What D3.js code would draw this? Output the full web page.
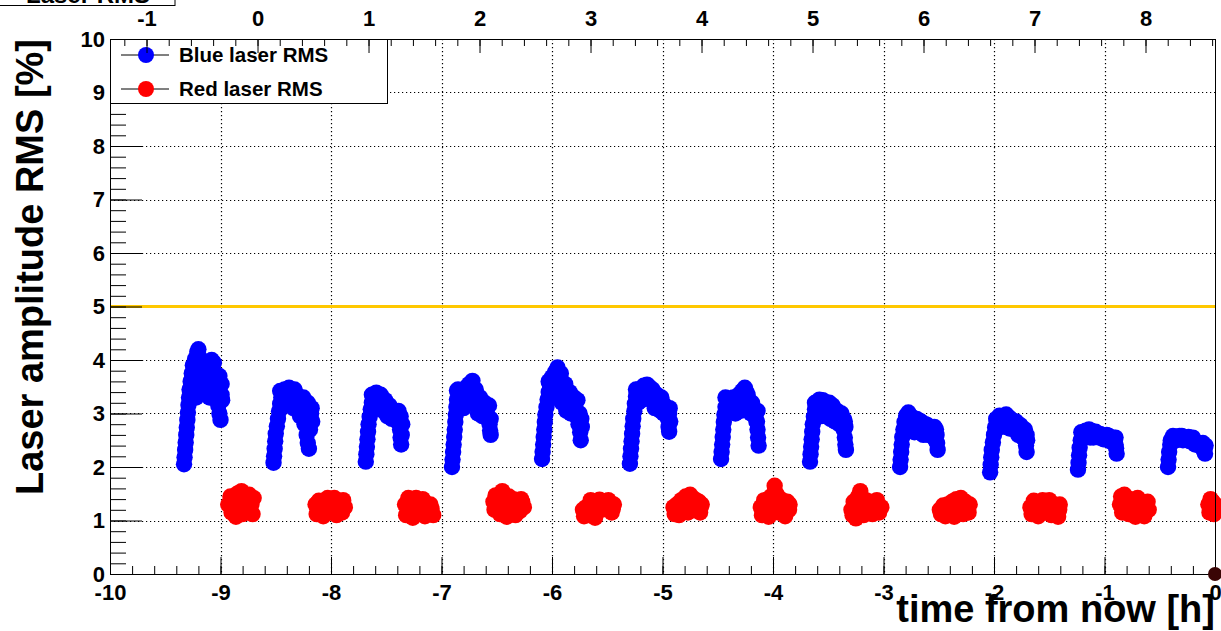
<!DOCTYPE html>
<html><head><meta charset="utf-8">
<script src="https://cdn.jsdelivr.net/npm/d3@7"></script>
<style>
body{margin:0;background:#fff;overflow:hidden}
svg{display:block}
text{font-family:"Liberation Sans",Arial,Helvetica,sans-serif;font-weight:bold;fill:#000}
</style>
</head><body>
<svg id="chart" width="1221" height="631"></svg>
<script>
// ---------------- data ----------------
const titleText = "Laser RMS";
const xTitle = "time from now [h]";
const yTitle = "Laser amplitude RMS [%]";
const seriesNames = ["Blue laser RMS", "Red laser RMS"];
const thresholdRms = 5;

const xTickValues = [-10, -9, -8, -7, -6, -5, -4, -3, -2, -1, 0];
const yTickValues = [0, 1, 2, 3, 4, 5, 6, 7, 8, 9, 10];
const topTickValues = [-1, 0, 1, 2, 3, 4, 5, 6, 7, 8];

const blueTime = [
  -9.33,-9.325,-9.32,-9.315,-9.31,-9.305,-9.30,-9.295,-9.29,-9.285,-9.28,-9.27,-9.26,-9.25,-9.24,-9.23,-9.22,-9.21,-9.20,-9.19,-9.18,-9.17,-9.16,-9.15,-9.14,-9.12,-9.10,-9.08,-9.07,-9.06,-9.05,-9.04,-9.03,-9.02,-9.01,-9.00,-9.02,-8.99,-8.985,
  -9.27,-9.25,-9.23,-9.21,-9.19,-9.17,-9.15,-9.13,-9.11,-9.09,-9.06,-9.04,-9.01,-8.99,-9.22,-9.10,
  -8.52,-8.515,-8.51,-8.505,-8.50,-8.49,-8.48,-8.47,-8.46,-8.45,-8.43,-8.41,-8.40,-8.38,-8.36,-8.34,-8.32,-8.30,-8.28,-8.26,-8.24,-8.22,-8.21,-8.20,-8.19,-8.18,-8.17,
  -8.46,-8.44,-8.42,-8.39,-8.37,-8.35,-8.33,-8.31,-8.29,-8.27,-8.25,-8.23,-8.21,-8.19,-8.175,
  -7.685,-7.68,-7.675,-7.67,-7.665,-7.66,-7.65,-7.64,-7.63,-7.61,-7.59,-7.57,-7.55,-7.53,-7.51,-7.49,-7.47,-7.45,-7.42,-7.40,-7.375,-7.37,-7.365,-7.36,-7.355,
  -7.63,-7.61,-7.59,-7.57,-7.55,-7.53,-7.51,-7.49,-7.47,-7.45,-7.43,-7.41,-7.39,-7.37,
  -6.905,-6.90,-6.895,-6.89,-6.885,-6.88,-6.875,-6.87,-6.865,-6.86,-6.86,-6.84,-6.82,-6.80,-6.78,-6.75,-6.72,-6.70,-6.68,-6.66,-6.64,-6.62,-6.60,-6.58,-6.565,-6.56,-6.555,
  -6.85,-6.83,-6.81,-6.79,-6.77,-6.74,-6.73,-6.71,-6.69,-6.67,-6.65,-6.63,-6.61,-6.59,-6.57,-6.555,
  -6.09,-6.085,-6.08,-6.075,-6.07,-6.065,-6.06,-6.05,-6.04,-6.03,-6.02,-6.0,-5.98,-5.97,-5.95,-5.93,-5.91,-5.89,-5.87,-5.85,-5.82,-5.80,-5.78,-5.76,-5.745,-5.74,-5.73,
  -6.03,-6.01,-5.99,-5.97,-5.96,-5.94,-5.92,-5.90,-5.88,-5.86,-5.84,-5.83,-5.81,-5.79,-5.77,-5.75,-5.735,
  -5.295,-5.29,-5.285,-5.28,-5.275,-5.27,-5.265,-5.255,-5.25,-5.24,-5.22,-5.19,-5.17,-5.14,-5.11,-5.08,-5.06,-5.03,-5.00,-4.97,-4.95,-4.945,-4.94,-4.93,-4.935,
  -5.24,-5.22,-5.20,-5.18,-5.16,-5.13,-5.12,-5.10,-5.09,-5.07,-5.05,-5.02,-5.01,-4.99,-4.98,-4.96,-4.94,
  -4.47,-4.465,-4.46,-4.455,-4.45,-4.445,-4.44,-4.43,-4.41,-4.39,-4.37,-4.35,-4.33,-4.31,-4.28,-4.255,-4.23,-4.21,-4.19,-4.17,-4.15,-4.14,-4.135,-4.13,-4.14,
  -4.43,-4.42,-4.40,-4.38,-4.36,-4.34,-4.32,-4.30,-4.29,-4.27,-4.25,-4.24,-4.22,-4.20,-4.18,-4.16,-4.145,
  -3.665,-3.66,-3.655,-3.65,-3.645,-3.64,-3.63,-3.62,-3.60,-3.58,-3.55,-3.52,-3.49,-3.46,-3.43,-3.40,-3.38,-3.36,-3.35,-3.345,-3.34,-3.35,
  -3.62,-3.60,-3.58,-3.56,-3.54,-3.52,-3.50,-3.48,-3.46,-3.44,-3.42,-3.40,-3.38,-3.36,-3.345,
  -2.85,-2.845,-2.84,-2.835,-2.83,-2.82,-2.81,-2.795,-2.775,-2.75,-2.72,-2.69,-2.66,-2.63,-2.60,-2.57,-2.54,-2.52,-2.515,-2.51,-2.53,
  -2.80,-2.78,-2.76,-2.74,-2.72,-2.70,-2.68,-2.66,-2.64,-2.62,-2.60,-2.58,-2.56,-2.54,-2.525,
  -2.035,-2.03,-2.025,-2.02,-2.01,-2.0,-1.99,-1.975,-1.95,-1.92,-1.89,-1.86,-1.83,-1.80,-1.77,-1.74,-1.72,-1.71,-1.705,-1.70,
  -1.98,-1.96,-1.94,-1.93,-1.91,-1.90,-1.88,-1.86,-1.84,-1.82,-1.80,-1.78,-1.76,-1.74,-1.72,-1.705,
  -1.24,-1.235,-1.23,-1.225,-1.215,-1.2,-1.17,-1.14,-1.11,-1.08,-1.05,-1.02,-0.99,-0.96,-0.93,-0.91,-0.895,-0.89,-0.90,
  -1.21,-1.19,-1.16,-1.13,-1.12,-1.10,-1.07,-1.04,-1.01,-0.98,-0.95,-0.92,-0.90,
  -0.425,-0.42,-0.415,-0.405,-0.39,-0.36,-0.33,-0.30,-0.27,-0.24,-0.21,-0.18,-0.15,-0.12,-0.10,-0.09,-0.085,
  -0.40,-0.38,-0.35,-0.32,-0.29,-0.26,-0.23,-0.20,-0.17,-0.14,-0.11,-0.095
];
const blueRms = [
  2.05,2.18,2.32,2.46,2.6,2.74,2.88,3.02,3.16,3.3,3.45,3.6,3.75,3.9,3.4,4.02,3.55,4.15,4.2,3.7,3.9,3.5,3.8,3.4,3.6,3.75,3.45,4.0,3.85,3.6,3.35,3.6,3.3,3.15,3.0,2.88,3.45,3.55,3.25,
  3.35,3.55,3.75,3.9,4.05,3.65,3.95,3.45,3.85,3.6,3.95,3.45,3.7,3.35,3.3,3.3,
  2.08,2.2,2.34,2.48,2.62,2.76,2.9,3.04,3.18,3.3,3.38,3.2,3.45,3.48,3.42,3.1,3.38,3.25,2.95,3.2,2.8,2.6,2.45,2.34,2.7,3.0,2.85,
  3.42,3.25,3.45,3.3,3.4,3.25,3.45,3.1,3.3,3.05,3.3,3.1,3.2,2.95,3.1,
  2.1,2.24,2.38,2.52,2.66,2.8,2.94,3.08,3.2,3.32,3.39,3.3,3.15,3.25,3.05,3.12,2.95,3.05,2.9,2.85,2.7,2.55,2.42,2.6,2.8,
  3.35,3.15,3.25,3.1,3.35,3.05,3.25,2.95,3.15,2.9,3.05,2.95,3.05,2.95,
  2.0,2.14,2.28,2.42,2.56,2.7,2.84,2.98,3.12,3.26,3.43,3.3,3.35,3.1,3.45,3.55,3.61,3.4,3.25,3.1,3.2,3.05,3.1,2.95,2.8,2.68,2.6,
  3.45,3.2,3.4,3.25,3.5,3.35,3.5,3.25,3.45,3.0,3.3,2.95,3.2,3.0,3.15,2.9,
  2.15,2.28,2.42,2.56,2.7,2.84,2.98,3.12,3.26,3.4,3.54,3.68,3.3,3.78,3.86,3.6,3.2,3.45,3.05,3.3,3.15,3.3,2.95,2.8,2.65,2.5,2.75,
  3.6,3.4,3.6,3.45,3.7,3.35,3.75,3.3,3.55,3.15,3.4,3.0,3.2,3.1,3.25,3.0,2.9,
  2.06,2.2,2.34,2.48,2.62,2.76,2.9,3.04,3.18,3.32,3.45,3.25,3.52,3.54,3.4,3.2,3.3,3.15,3.2,3.05,2.9,2.75,2.66,2.85,3.1,
  3.45,3.2,3.4,3.3,3.45,3.3,3.5,3.25,3.45,3.1,3.35,3.05,3.3,3.0,3.15,2.95,3.0,
  2.15,2.28,2.42,2.56,2.7,2.84,2.98,3.12,3.15,3.05,3.2,3.1,3.25,3.35,3.42,3.48,3.35,3.15,3.2,3.0,2.85,2.7,2.55,2.4,3.05,
  3.3,3.0,3.25,3.1,3.3,3.0,3.15,3.25,3.05,3.3,3.15,3.4,3.25,3.0,3.1,2.95,2.85,
  2.1,2.24,2.38,2.52,2.66,2.8,2.94,3.08,3.2,3.26,3.25,3.15,3.2,3.05,2.95,3.0,2.85,2.7,2.55,2.42,2.32,2.85,
  3.2,3.05,3.15,2.95,3.15,2.95,3.1,2.9,3.15,2.85,3.05,2.8,3.0,2.9,2.75,
  2.0,2.14,2.28,2.42,2.56,2.7,2.84,2.96,3.02,2.95,2.9,2.8,2.85,2.7,2.78,2.62,2.75,2.6,2.45,2.32,2.5,
  2.8,2.88,2.7,2.85,2.65,2.9,2.65,2.75,2.6,2.8,2.6,2.75,2.6,2.55,2.7,
  1.9,2.04,2.18,2.32,2.46,2.6,2.74,2.86,2.96,2.9,2.98,2.92,2.78,2.85,2.65,2.7,2.55,2.4,2.28,2.5,
  2.9,2.8,2.95,2.75,2.95,2.8,2.9,2.72,2.88,2.7,2.75,2.6,2.78,2.55,2.7,2.6,
  1.95,2.08,2.22,2.36,2.5,2.62,2.68,2.7,2.62,2.66,2.55,2.6,2.52,2.58,2.5,2.45,2.35,2.25,2.55,
  2.65,2.55,2.6,2.55,2.68,2.55,2.58,2.62,2.52,2.6,2.48,2.55,2.42,
  2.0,2.14,2.28,2.42,2.52,2.56,2.55,2.58,2.52,2.56,2.5,2.42,2.45,2.38,2.3,2.25,2.4,
  2.5,2.58,2.5,2.58,2.5,2.55,2.48,2.55,2.45,2.4,2.45,2.35
];
const redTime = [
  -8.93,-8.91,-8.90,-8.88,-8.86,-8.85,-8.83,-8.81,-8.80,-8.78,-8.76,-8.74,-8.72,-8.71,-8.70,-8.89,-8.84,-8.79,-8.75,-8.86,
  -8.14,-8.13,-8.11,-8.09,-8.07,-8.05,-8.03,-8.01,-7.99,-7.97,-7.95,-7.93,-7.91,-7.89,-7.875,-8.10,-8.05,-8.00,-7.94,-7.90,
  -7.33,-7.32,-7.30,-7.28,-7.26,-7.25,-7.23,-7.21,-7.19,-7.17,-7.15,-7.13,-7.11,-7.09,-7.075,-7.29,-7.24,-7.20,-7.14,-7.10,
  -6.53,-6.52,-6.51,-6.49,-6.47,-6.45,-6.43,-6.41,-6.39,-6.37,-6.35,-6.33,-6.31,-6.29,-6.27,-6.255,-6.50,-6.44,-6.38,-6.32,-6.28,
  -5.72,-5.71,-5.69,-5.67,-5.65,-5.63,-5.61,-5.59,-5.57,-5.55,-5.53,-5.51,-5.49,-5.47,-5.45,-5.44,-5.68,-5.62,-5.56,-5.50,-5.46,
  -4.90,-4.89,-4.87,-4.85,-4.83,-4.81,-4.79,-4.77,-4.75,-4.73,-4.71,-4.69,-4.67,-4.655,-4.645,-4.86,-4.80,-4.74,-4.70,-4.66,
  -4.11,-4.10,-4.08,-4.06,-4.04,-4.02,-4.00,-3.985,-3.97,-3.95,-3.93,-3.91,-3.89,-3.87,-3.855,-3.85,-4.07,-4.01,-3.96,-3.92,-3.88,
  -3.29,-3.28,-3.27,-3.25,-3.23,-3.21,-3.20,-3.18,-3.16,-3.14,-3.12,-3.10,-3.08,-3.06,-3.04,-3.02,-3.26,-3.22,-3.17,-3.11,-3.05,
  -2.49,-2.48,-2.46,-2.44,-2.42,-2.40,-2.38,-2.36,-2.34,-2.32,-2.30,-2.28,-2.26,-2.24,-2.22,-2.45,-2.39,-2.33,-2.27,-2.23,
  -1.67,-1.66,-1.64,-1.62,-1.60,-1.58,-1.56,-1.54,-1.52,-1.50,-1.48,-1.46,-1.44,-1.42,-1.405,-1.63,-1.57,-1.51,-1.45,-1.41,
  -0.86,-0.85,-0.84,-0.82,-0.80,-0.78,-0.76,-0.74,-0.72,-0.70,-0.68,-0.66,-0.64,-0.62,-0.60,-0.83,-0.77,-0.71,-0.65,-0.61,
  -0.06,-0.05,-0.04,-0.03,-0.02,-0.01,0.0,-0.045,-0.015
];
const redRms = [
  1.3,1.45,1.15,1.35,1.07,1.5,1.25,1.55,1.12,1.4,1.2,1.48,1.3,1.12,1.42,1.25,1.35,1.25,1.35,1.2,
  1.3,1.12,1.37,1.2,1.08,1.32,1.42,1.15,1.28,1.42,1.1,1.35,1.2,1.38,1.25,1.25,1.2,1.35,1.25,1.15,
  1.3,1.1,1.42,1.18,1.05,1.35,1.42,1.15,1.28,1.4,1.08,1.3,1.15,1.22,1.1,1.3,1.2,1.35,1.2,1.3,
  1.35,1.2,1.47,1.3,1.12,1.55,1.38,1.07,1.45,1.22,1.4,1.1,1.3,1.18,1.35,1.25,1.2,1.25,1.3,1.25,1.4,
  1.2,1.08,1.25,1.1,1.38,1.15,1.05,1.32,1.39,1.2,1.35,1.25,1.38,1.3,1.22,1.3,1.2,1.3,1.25,1.3,1.15,
  1.25,1.12,1.3,1.1,1.38,1.2,1.45,1.15,1.48,1.3,1.4,1.2,1.35,1.25,1.3,1.25,1.3,1.2,1.3,1.15,
  1.25,1.1,1.38,1.2,1.07,1.45,1.3,1.65,1.5,1.15,1.4,1.25,1.08,1.35,1.2,1.3,1.25,1.2,1.3,1.2,1.25,
  1.2,1.1,1.35,1.04,1.45,1.55,1.25,1.1,1.38,1.2,1.35,1.12,1.28,1.38,1.15,1.25,1.25,1.3,1.2,1.25,1.3,
  1.2,1.12,1.28,1.08,1.3,1.18,1.35,1.07,1.4,1.22,1.42,1.12,1.35,1.2,1.3,1.2,1.25,1.2,1.28,1.15,
  1.25,1.12,1.37,1.2,1.08,1.3,1.38,1.15,1.28,1.38,1.1,1.3,1.2,1.07,1.3,1.25,1.2,1.25,1.2,1.2,
  1.3,1.45,1.15,1.48,1.25,1.12,1.4,1.3,1.07,1.42,1.2,1.35,1.08,1.3,1.2,1.3,1.2,1.25,1.2,1.35,
  1.3,1.15,1.4,1.2,1.35,1.12,1.3,1.25,1.25
];
const nowTime = [0];
const nowValue = [0];

// ---------------- layout ----------------
const L = 110, R = 1215, T = 39, B = 574;
const svg = d3.select("#chart");

const x = d3.scaleLinear().domain([-10, 0]).range([L, R]);
const y = d3.scaleLinear().domain([0, 10]).range([B, T]);
const xTop = d3.scaleLinear().domain([-1.329, 8.626]).range([L, R]);

const minorOf = (lo, hi, step) => d3.range(Math.round(lo / step), Math.round(hi / step) + 1).map(k => +(k * step).toFixed(4));
const plainFmt = d => String(d);

// grid
const grid = svg.append("g");
xTickValues.filter(v => v > -10 && v < 0).forEach(v => {
  grid.append("line").attr("x1", Math.round(x(v)) + 0.5).attr("x2", Math.round(x(v)) + 0.5)
    .attr("y1", T).attr("y2", B).attr("stroke", "#000").attr("stroke-width", 1.2).attr("stroke-dasharray", "1.2,2.8");
});
yTickValues.filter(v => v > 0 && v < 10).forEach(v => {
  grid.append("line").attr("y1", Math.round(y(v)) + 0.5).attr("y2", Math.round(y(v)) + 0.5)
    .attr("x1", L).attr("x2", R).attr("stroke", "#000").attr("stroke-width", 1.2).attr("stroke-dasharray", "1.2,2.8");
});

// threshold line
svg.append("line").attr("x1", L).attr("x2", R).attr("y1", y(thresholdRms)).attr("y2", y(thresholdRms))
  .attr("stroke", "#ffc800").attr("stroke-width", 3);

// markers
const blue = blueTime.map((t, i) => [t, blueRms[i]]);
const red = redTime.map((t, i) => [t, redRms[i]]);
svg.append("g").selectAll("circle").data(blue).join("circle")
  .attr("cx", d => x(d[0])).attr("cy", d => y(d[1])).attr("r", 8.2).attr("fill", "#0000ff");
svg.append("g").selectAll("circle").data(red).join("circle")
  .attr("cx", d => x(d[0])).attr("cy", d => y(d[1])).attr("r", 8.2).attr("fill", "#ff0000");

// legend (covers left axis ticks)
const leg = svg.append("g");
leg.append("rect").attr("x", L + 0.5).attr("y", T + 0.5).attr("width", 277).attr("height", 64)
  .attr("fill", "#fff").attr("stroke", "#000").attr("stroke-width", 1);
const legColors = ["#0000ff", "#ff0000"];
seriesNames.forEach((name, i) => {
  const cy = 55 + i * 34;
  leg.append("line").attr("x1", 121).attr("x2", 169).attr("y1", cy).attr("y2", cy).attr("stroke", "#000").attr("stroke-width", 1);
  leg.append("circle").attr("cx", 146).attr("cy", cy).attr("r", 8).attr("fill", legColors[i]);
  leg.append("text").attr("x", 179).attr("y", cy + 7).attr("font-size", 20.5).text(name);
});

// axes
function styleAxis(g, fs) {
  g.attr("font-family", null).attr("font-size", null);
  g.selectAll("line").attr("stroke", "#000").attr("stroke-width", 1);
  g.selectAll("path.domain").remove();
  g.selectAll("text").attr("font-size", fs);
}
const fsTick = 22;
// bottom
svg.append("g").attr("transform", `translate(0,${B})`)
  .call(d3.axisBottom(x).tickValues(minorOf(-10, 0, 0.2)).tickSize(-8).tickFormat(""))
  .call(g => styleAxis(g, fsTick));
svg.append("g").attr("transform", `translate(0,${B})`)
  .call(d3.axisBottom(x).tickValues(xTickValues).tickSize(-17).tickPadding(10).tickFormat(plainFmt))
  .call(g => styleAxis(g, fsTick));
// left (ticks under legend removed)
svg.append("g").attr("transform", `translate(${L},0)`)
  .call(d3.axisLeft(y).tickValues(minorOf(0, 10, 0.2).filter(v => y(v) > 104)).tickSize(-16).tickFormat(""))
  .call(g => styleAxis(g, fsTick));
const la = svg.append("g").attr("transform", `translate(${L},0)`)
  .call(d3.axisLeft(y).tickValues(yTickValues).tickSize(-32).tickPadding(5).tickFormat(plainFmt))
  .call(g => styleAxis(g, fsTick));
la.selectAll(".tick").filter(d => y(d) < 104).select("line").remove();

// frame
svg.append("rect").attr("x", L + 0.5).attr("y", T + 0.5).attr("width", R - L).attr("height", B - T)
  .attr("fill", "none").attr("stroke", "#000").attr("stroke-width", 1);

// top axis (drawn over legend)
svg.append("g").attr("transform", `translate(0,${T})`)
  .call(d3.axisTop(xTop).tickValues(minorOf(-1.2, 8.6, 0.2)).tickSize(-7).tickFormat(""))
  .call(g => styleAxis(g, fsTick));
svg.append("g").attr("transform", `translate(0,${T})`)
  .call(d3.axisTop(xTop).tickValues(topTickValues).tickSize(-14).tickPadding(13).tickFormat(plainFmt))
  .call(g => styleAxis(g, fsTick));

// "now" point
svg.append("g").selectAll("circle").data(nowTime.map((t, i) => [t, nowValue[i]])).join("circle")
  .attr("cx", d => x(d[0])).attr("cy", d => y(d[1])).attr("r", 7).attr("fill", "#3a0505");

// titles
svg.append("text").attr("x", R).attr("y", 622).attr("text-anchor", "end").attr("font-size", 38).text(xTitle);
svg.append("text").attr("transform", `translate(43,${T}) rotate(-90)`).attr("text-anchor", "end").attr("font-size", 38).text(yTitle);

// partially visible title box
svg.append("rect").attr("x", -1).attr("y", -30).attr("width", 176).attr("height", 35.5)
  .attr("fill", "#fff").attr("stroke", "#000").attr("stroke-width", 1);
svg.append("text").attr("x", 88).attr("y", 3).attr("text-anchor", "middle").attr("font-size", 24).text(titleText);
</script>
</body></html>
